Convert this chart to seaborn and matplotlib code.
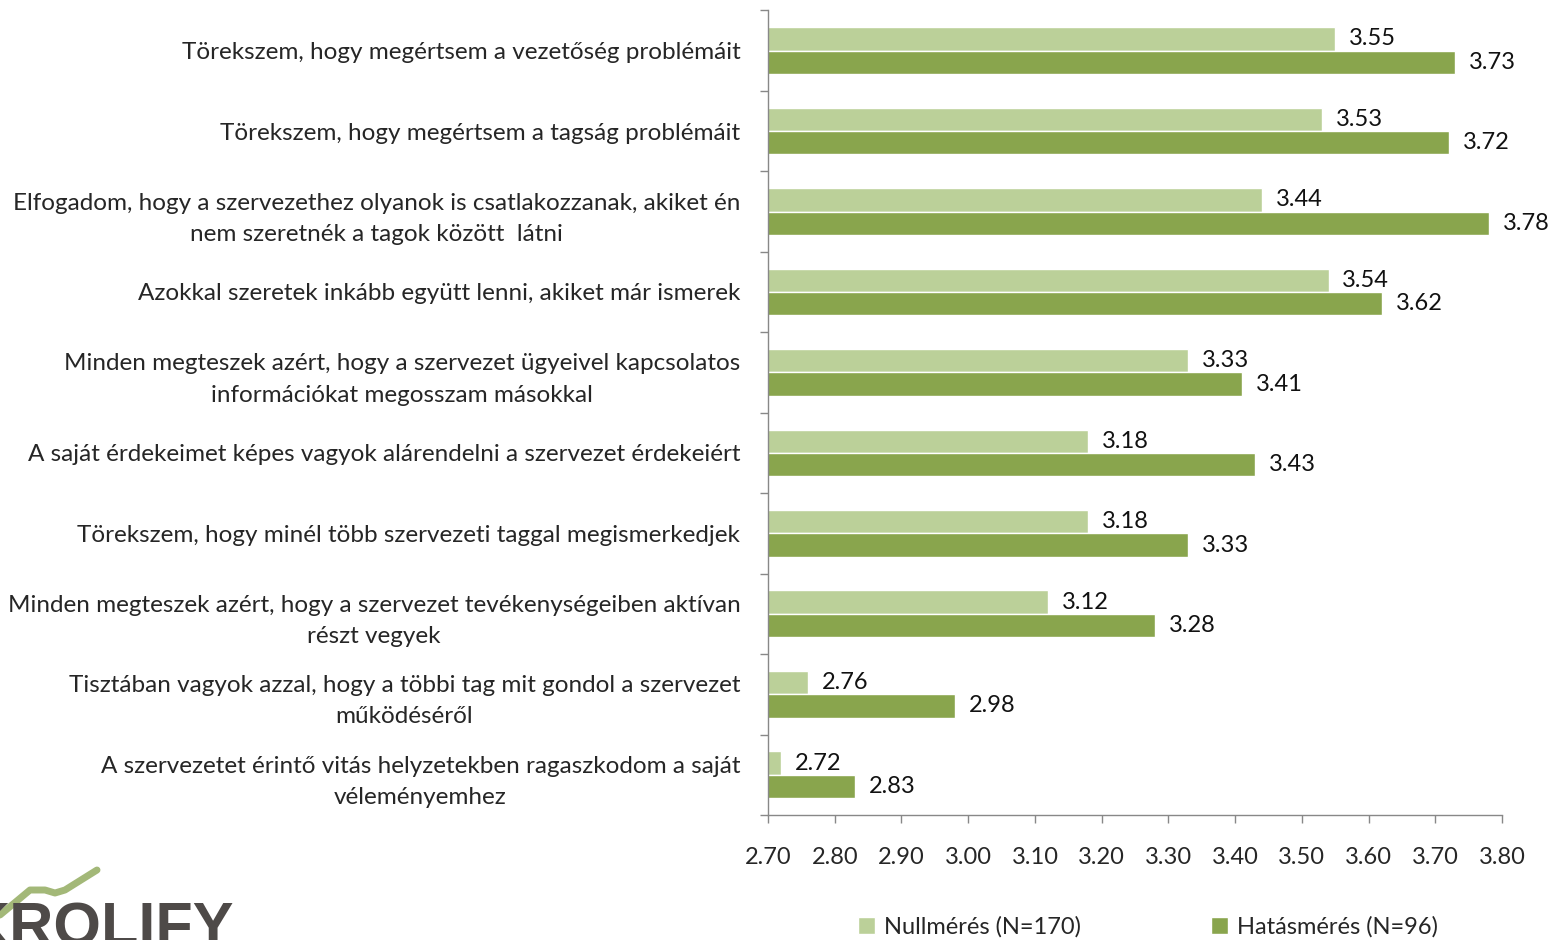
import matplotlib

matplotlib.use("Agg")

import matplotlib.pyplot as plt
import numpy as np
import pandas as pd
import seaborn as sns
from matplotlib.lines import Line2D

categories = [
    "Törekszem, hogy megértsem a vezetőség problémáit",
    "Törekszem, hogy megértsem a tagság problémáit",
    "Elfogadom, hogy a szervezethez olyanok is csatlakozzanak, akiket én\nnem szeretnék a tagok között  látni",
    "Azokkal szeretek inkább együtt lenni, akiket már ismerek",
    "Minden megteszek azért, hogy a szervezet ügyeivel kapcsolatos\ninformációkat megosszam másokkal",
    "A saját érdekeimet képes vagyok alárendelni a szervezet érdekeiért",
    "Törekszem, hogy minél több szervezeti taggal megismerkedjek",
    "Minden megteszek azért, hogy a szervezet tevékenységeiben aktívan\nrészt vegyek",
    "Tisztában vagyok azzal, hogy a többi tag mit gondol a szervezet\nműködéséről",
    "A szervezetet érintő vitás helyzetekben ragaszkodom a saját\nvéleményemhez",
]
series_names = ["Nullmérés (N=170)", "Hatásmérés (N=96)"]
nullmeres = [3.55, 3.53, 3.44, 3.54, 3.33, 3.18, 3.18, 3.12, 2.76, 2.72]
hatasmeres = [3.73, 3.72, 3.78, 3.62, 3.41, 3.43, 3.33, 3.28, 2.98, 2.83]
x_ticks = [2.70, 2.80, 2.90, 3.00, 3.10, 3.20, 3.30, 3.40, 3.50, 3.60, 3.70, 3.80]

colors = ["#BBD099", "#89A54D"]

frame = pd.DataFrame({
    "kategoria": categories * 2,
    "sorozat": [series_names[0]] * len(categories) + [series_names[1]] * len(categories),
    "ertek": nullmeres + hatasmeres,
})

sns.set_theme(style="white")
plt.rcParams["font.family"] = ["Lato", "DejaVu Sans"]

fig = plt.figure(figsize=(15.62, 9.4), dpi=100)
ax = fig.add_axes([0.4917, 0.133, 0.4699, 0.856])

sns.barplot(
    data=frame, y="kategoria", x="ertek", hue="sorozat", orient="h",
    palette=colors, saturation=1, width=0.58, ax=ax, legend=True,
)

for container in ax.containers:
    ax.bar_label(container, fmt="%.2f", padding=10, fontsize=17, color="#111111")

ax.set_xlim(2.70, 3.80)
ax.set_xticks(x_ticks)
ax.set_xticklabels([f"{t:.2f}" for t in x_ticks], fontsize=17)
ax.set_xlabel("")
ax.set_ylabel("")

ax.set_yticks(range(len(categories)))
ax.set_yticklabels(categories, fontsize=17.5, multialignment="center", linespacing=1.6)
ax.set_yticks(np.arange(-0.5, len(categories), 1.0), minor=True)
ax.tick_params(axis="y", which="major", length=0, pad=20)
ax.tick_params(axis="y", which="minor", length=6, width=1, color="#888888", direction="out", left=True)
ax.tick_params(axis="x", which="major", length=6, width=1, color="#888888", direction="out", bottom=True, pad=17)

for side in ["top", "right"]:
    ax.spines[side].set_visible(False)
for side in ["left", "bottom"]:
    ax.spines[side].set_color("#888888")
    ax.spines[side].set_linewidth(1)

handles, labels = ax.get_legend_handles_labels()
ax.legend_.remove()
fig.legend(
    handles, labels, loc="center", bbox_to_anchor=(0.735, 0.014), ncol=2,
    frameon=False, fontsize=17, handlelength=0.7, handleheight=0.7,
    handletextpad=0.4, columnspacing=5.5,
)

# logo in the lower left corner
logo_x = np.array([0, 30, 45, 55, 65, 97]) / 1562
logo_y = 1 - np.array([915, 890, 890, 893, 890, 870]) / 940
fig.add_artist(Line2D(logo_x, logo_y, transform=fig.transFigure, color="#A3B878", linewidth=5))
fig.text(-0.022, -0.02, "KROLIFY", fontsize=44, fontweight="bold", color="#4E4A48",
         family=["Liberation Sans", "DejaVu Sans"], ha="left", va="bottom")

fig.savefig("out.png", dpi=100)
